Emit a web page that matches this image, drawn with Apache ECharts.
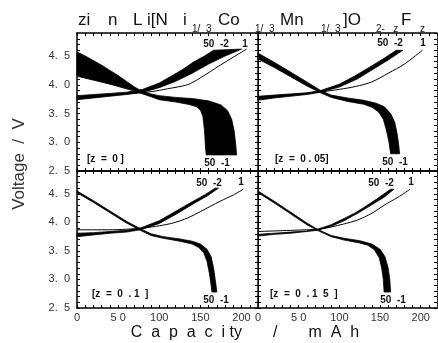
<!DOCTYPE html>
<html><head><meta charset="utf-8">
<script src="https://cdn.jsdelivr.net/npm/echarts@6/dist/echarts.min.js"></script>
<style>html,body{margin:0;padding:0;background:#fff}#c{width:438px;height:343px}</style>
</head><body><div id="c"></div>
<script>
// ---- tick labels ----
const xTickValues = [0, 50, 100, 150, 200];
const xTickLabels = ['0', '5 0', '100', '150', '200'];
const yTickValues = [2.5, 3.0, 3.5, 4.0, 4.5];
const yTickLabels = ['2.  5', '3.  0', '3.  5', '4.  0', '4.  5'];
const panelLabels = ['[z  =  0 ]', '[z  =  0 . 05]', '[z  =  0  . 1  ]', '[z  =  0  . 1  5  ]'];

// ---- z = 0 ----
const z0Charge50 = [[0,3.81],[20,3.83],[40,3.85],[60,3.87],[80,3.92],[100,4.03],[117,4.17],[130,4.28],[141,4.39],[155,4.5],[166,4.6]];
const z0Charge2 = [[0,3.74],[20,3.77],[40,3.8],[60,3.83],[80,3.87],[100,3.95],[120,4.06],[140,4.2],[160,4.36],[180,4.5],[200,4.62]];
const z0Charge1 = [[0,3.77],[30,3.81],[60,3.84],[90,3.88],[110,3.93],[134,4.0],[150,4.12],[174,4.34],[190,4.48],[206,4.62]];
const z0Dis1 = [[0,4.57],[10,4.5],[20,4.42],[30,4.34],[40,4.25],[50,4.16],[60,4.06],[70,3.96],[80,3.88],[90,3.84],[100,3.81],[120,3.78],[140,3.76],[160,3.72],[175,3.65],[183,3.55],[188,3.4],[191,3.2],[193,2.95],[194,2.78]];
const z0Dis50 = [[0,4.15],[20,4.08],[40,4.01],[60,3.93],[70,3.89],[80,3.84],[90,3.79],[100,3.74],[120,3.7],[135,3.66],[145,3.62],[150,3.56],[153,3.45],[155,3.2],[156,2.95],[157,2.78]];

// ---- z = 0.05 ----
const z05Charge50 = [[0,3.8],[20,3.82],[40,3.84],[60,3.86],[77,3.9],[100,4.01],[120,4.16],[140,4.33],[155,4.46],[170,4.6]];
const z05Charge2 = [[0,3.73],[20,3.77],[40,3.8],[60,3.83],[77,3.87],[100,3.96],[122,4.1],[145,4.3],[160,4.43],[178,4.6]];
const z05Charge1 = [[0,3.78],[30,3.82],[60,3.85],[80,3.88],[100,3.92],[120,3.97],[140,4.05],[160,4.2],[180,4.36],[202,4.6]];
const z05Dis1 = [[0,4.55],[20,4.39],[40,4.22],[60,4.05],[77,3.9],[90,3.82],[110,3.77],[130,3.73],[145,3.68],[155,3.62],[163,3.5],[168,3.35],[171,3.15],[173,2.95],[174,2.8]];
const z05Dis50 = [[0,4.45],[20,4.3],[40,4.14],[60,3.98],[77,3.86],[90,3.78],[110,3.71],[130,3.66],[140,3.61],[148,3.53],[154,3.4],[158,3.2],[161,3.0],[163,2.8]];

// ---- z = 0.1 ----
const z1Charge50 = [[0,3.81],[20,3.82],[40,3.84],[60,3.86],[77,3.9],[100,4.03],[117,4.17],[140,4.36],[155,4.48],[168,4.6]];
const z1Charge2 = [[0,3.75],[20,3.78],[40,3.81],[60,3.83],[77,3.87],[100,3.98],[120,4.14],[142,4.33],[158,4.46],[172,4.6]];
const z1Charge1 = [[0,3.87],[20,3.87],[40,3.87],[60,3.88],[80,3.9],[100,3.94],[117,3.99],[135,4.08],[150,4.19],[174,4.37],[190,4.48],[202,4.58]];
const z1Dis1 = [[0,4.55],[20,4.38],[40,4.2],[60,4.02],[77,3.89],[90,3.8],[105,3.75],[125,3.71],[140,3.67],[150,3.62],[158,3.53],[163,3.4],[166,3.2],[168,3.0],[170,2.78]];
const z1Dis50 = [[0,4.52],[20,4.35],[40,4.17],[60,3.99],[77,3.86],[90,3.77],[105,3.72],[125,3.67],[140,3.62],[148,3.56],[154,3.47],[158,3.32],[161,3.1],[163,2.9],[164,2.78]];

// ---- z = 0.15 ----
const z15Charge50 = [[0,3.79],[20,3.81],[40,3.83],[60,3.85],[73,3.88],[90,3.96],[106,4.07],[120,4.17],[130,4.26],[145,4.4],[163,4.58]];
const z15Charge2 = [[0,3.76],[20,3.79],[40,3.81],[60,3.84],[73,3.86],[90,3.93],[106,4.03],[125,4.18],[140,4.31],[155,4.44],[167,4.58]];
const z15Charge1 = [[0,3.84],[20,3.85],[40,3.86],[60,3.87],[75,3.88],[90,3.92],[105,3.97],[122,4.04],[140,4.16],[155,4.3],[172,4.44],[187,4.58]];
const z15Dis1 = [[0,4.55],[20,4.37],[40,4.18],[60,3.99],[73,3.88],[90,3.77],[106,3.72],[125,3.68],[140,3.62],[150,3.53],[156,3.4],[160,3.2],[162,3.0],[163,2.78]];
const z15Dis50 = [[0,4.52],[20,4.34],[40,4.15],[60,3.96],[73,3.86],[90,3.75],[106,3.69],[125,3.64],[135,3.6],[143,3.52],[149,3.38],[152,3.2],[154,3.0],[155,2.78]];

const panels = [
  {c50: z0Charge50, c2: z0Charge2, c1: z0Charge1, d1: z0Dis1, d50: z0Dis50},
  {c50: z05Charge50, c2: z05Charge2, c1: z05Charge1, d1: z05Dis1, d50: z05Dis50},
  {c50: z1Charge50, c2: z1Charge2, c1: z1Charge1, d1: z1Dis1, d50: z1Dis50},
  {c50: z15Charge50, c2: z15Charge2, c1: z15Charge1, d1: z15Dis1, d50: z15Dis50}
];

const FONT = "'Liberation Sans', Arial, Helvetica, sans-serif";
const grids = [
  {left: 77, top: 33, width: 181, height: 138},
  {left: 258, top: 33, width: 179, height: 138},
  {left: 77, top: 171, width: 181, height: 137},
  {left: 258, top: 171, width: 179, height: 137}
];

function xLabel(v) {
  const i = xTickValues.findIndex(t => Math.abs(t - v) < 1e-6);
  return i >= 0 ? xTickLabels[i] : '';
}
function yLabel(v) {
  const i = yTickValues.findIndex(t => Math.abs(t - v) < 1e-6);
  return i >= 0 ? yTickLabels[i] : '';
}

const xAxis = [], yAxis = [], series = [];
grids.forEach((g, i) => {
  const tick = {show: true, inside: true, length: 3, lineStyle: {color: '#000', width: 1}};
  const line = {show: true, onZero: false, lineStyle: {color: '#000', width: 1.5}};
  xAxis.push({type: 'value', gridIndex: i, min: 0, max: 220, interval: 10, position: 'bottom',
    axisLine: line, axisTick: tick, splitLine: {show: false},
    axisLabel: {show: i >= 2, formatter: xLabel, fontSize: 11, color: '#333', margin: 4, fontFamily: FONT,
      showMaxLabel: false, showMinLabel: true, hideOverlap: false}});
  xAxis.push({type: 'value', gridIndex: i, min: 0, max: 220, interval: 10, position: 'top',
    axisLine: line, axisTick: tick, splitLine: {show: false}, axisLabel: {show: false}});
  yAxis.push({type: 'value', gridIndex: i, min: 2.5, max: 4.9, interval: 0.1, position: 'left',
    axisLine: line, axisTick: tick, splitLine: {show: false},
    axisLabel: {show: i % 2 === 0, formatter: yLabel, fontSize: 11, color: '#333', margin: 7, fontFamily: FONT,
      showMaxLabel: false, hideOverlap: false}});
  yAxis.push({type: 'value', gridIndex: i, min: 2.5, max: 4.9, interval: 0.1, position: 'right',
    axisLine: {show: true, onZero: false, lineStyle: {color: '#000', width: 1, type: i % 2 === 1 ? 'dotted' : 'solid'}},
    axisTick: tick, splitLine: {show: false}, axisLabel: {show: false}});

  const p = panels[i];
  const band = (a, b) => ({
    type: 'custom', xAxisIndex: 2 * i, yAxisIndex: 2 * i, data: [[100, 3.5]], silent: true,
    renderItem: (params, api) => ({
      type: 'polygon',
      shape: {points: a.concat(b.slice().reverse()).map(pt => api.coord(pt))},
      style: {fill: '#000', stroke: '#000', lineWidth: 0.8}
    })
  });
  series.push(band(p.c50, p.c2));
  series.push(band(p.d1, p.d50));
  series.push({type: 'line', xAxisIndex: 2 * i, yAxisIndex: 2 * i, data: p.c1, symbol: 'none',
    smooth: 0.3, lineStyle: {color: '#000', width: 1}, silent: true});
});

function txt(x, y, text, font, align, valign) {
  return {type: 'text', x: x, y: y, silent: true,
    style: {text: text, font: font, fill: '#111', textAlign: align || 'left', align: align || 'left',
      textVerticalAlign: valign || 'middle', verticalAlign: valign || 'middle'}};
}
const B = 'bold 10px ' + FONT;
const M = '17px ' + FONT;
const S = '10px ' + FONT;
const graphic = [
  // title pieces
  txt(78, 20, 'zi', M), txt(108, 20, 'n', M), txt(133, 20, 'L', M), txt(147, 20, 'i[N', M), txt(183, 20, 'i', M),
  txt(192, 29, '1/  3', S), txt(218, 20, 'Co', M), txt(255, 29, '1/  3', S), txt(280, 20, 'Mn', M),
  txt(321, 29, '1/  3', S), txt(343, 20, ']O', M), txt(376, 29, '2-   z', S), txt(401, 20, 'F', M),
  txt(420, 29, 'z', S),
  // axis titles
  {type: 'text', x: 19, y: 164, rotation: Math.PI / 2, silent: true,
    style: {text: 'Voltage  /  V', font: '17px ' + FONT, fill: '#333', textAlign: 'center', align: 'center',
      textVerticalAlign: 'middle', verticalAlign: 'middle'}},
  txt(245, 333, 'C  a  p  a  c  i ty       /       m  A  h', '16px ' + FONT, 'center'),
  // panel annotations
  txt(216, 44, '50  -2', B, 'center'), txt(245, 44, '1', B, 'center'),
  txt(87, 159, panelLabels[0], B), txt(217, 163, '50  -1', B, 'center'),
  txt(390, 43, '50  -2', B, 'center'), txt(423, 43, '1', B, 'center'),
  txt(275, 159, panelLabels[1], B), txt(395, 162, '50  -1', B, 'center'),
  txt(209, 183, '50  -2', B, 'center'), txt(241, 182, '1', B, 'center'),
  txt(92, 294, panelLabels[2], B), txt(216, 300, '50  -1', B, 'center'),
  txt(381, 183, '50  -2', B, 'center'), txt(411, 182, '1', B, 'center'),
  txt(270, 294, panelLabels[3], B), txt(393, 300, '50  -1', B, 'center')
];

const chart = echarts.init(document.getElementById('c'), null, {renderer: 'canvas'});
chart.setOption({animation: false, backgroundColor: '#fff', grid: grids, xAxis: xAxis, yAxis: yAxis,
  series: series, graphic: graphic});
</script></body></html>
